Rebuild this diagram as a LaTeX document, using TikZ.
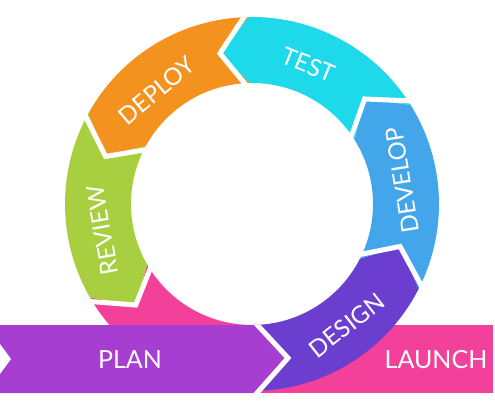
\documentclass[tikz,border=0pt]{standalone}
\usepackage{fontspec}
\setmainfont{Lato}
\usetikzlibrary{calc}
\definecolor{cOrange}{HTML}{F3921F}
\definecolor{cCyan}{HTML}{1DD9EA}
\definecolor{cBlue}{HTML}{43A6EA}
\definecolor{cDesign}{HTML}{6C3ECF}
\definecolor{cPink}{HTML}{F3409A}
\definecolor{cGreen}{HTML}{A7CF3F}
\definecolor{cPlan}{HTML}{A63ED1}
\newcommand\Ro{187}
\newcommand\Ri{121}
\newcommand\Rm{154}
\newcommand\dl{11}
% ring segment: colour, cw angle, ccw angle
\newcommand\ringseg[3]{%
  \fill[#1] ($(c)+(#2:\Ro pt)$) arc[start angle=#2, end angle=#3, radius=\Ro pt]
    -- ($(c)+({#3+\dl}:\Rm pt)$) -- ($(c)+(#3:\Ri pt)$)
    arc[start angle=#3, end angle=#2, radius=\Ri pt]
    -- ($(c)+({#2+\dl}:\Rm pt)$) -- cycle;}
\newcommand\ringgap[1]{%
  \draw[gapline] ($(c)+(#1:194pt)$) -- ($(c)+({#1+\dl}:\Rm pt)$) -- ($(c)+(#1:114pt)$);}
\begin{document}
\begin{tikzpicture}[x=1pt,y=1pt,
  gapline/.style={white, line width=5pt, line join=miter},
  lbl/.style={text=white, font=\fontsize{24}{24}\selectfont, inner sep=0pt},
  bandlbl/.style={text=white, font=\fontsize{25}{25}\selectfont, inner sep=0pt}]
\useasboundingbox (0,0) rectangle (495,400);
\fill[white] (0,0) rectangle (495,400);
\coordinate (c) at (252,196);
% launch band
\fill[cPink] (250,7) rectangle (493,75);
% ring segments
\ringseg{cPink}{210}{266}
\ringseg{cGreen}{151}{210}
\ringseg{cOrange}{91}{151}
\ringseg{cCyan}{32}{91}
\ringseg{cBlue}{-27}{32}
\ringseg{cDesign}{266}{333}
% white gaps between segments
\ringgap{333}
\ringgap{32}
\ringgap{91}
\ringgap{151}
\ringgap{210}
% plan band
\fill[cPlan] (0,75) -- (257,75) -- (288,42) -- (257,7) -- (0,7) -- cycle;
\begin{scope}
  \clip (0,7) rectangle (495,75);
  \draw[gapline] (249,84) -- (288,42) -- (249,-2);
\end{scope}
\fill[white] (0,56) -- (11,41) -- (0,26) -- cycle;
% labels
\node[bandlbl] (plan) at (130,40) {PLAN};
\node[bandlbl] (launch) at (436,40) {LAUNCH};
\node[lbl, rotate=-22] (test) at ($(c)+(68:150pt)$) {TEST};
\node[lbl, rotate=40] (deploy) at ($(c)+(130:148pt)$) {DEPLOY};
\node[lbl, rotate=100] (review) at ($(c)+(190:152pt)$) {REVIEW};
\node[lbl, rotate=99] (develop) at ($(c)+(9:152pt)$) {DEVELOP};
\node[lbl, rotate=38] (design) at ($(c)+(-52:154pt)$) {DESIGN};
\end{tikzpicture}
\end{document}
